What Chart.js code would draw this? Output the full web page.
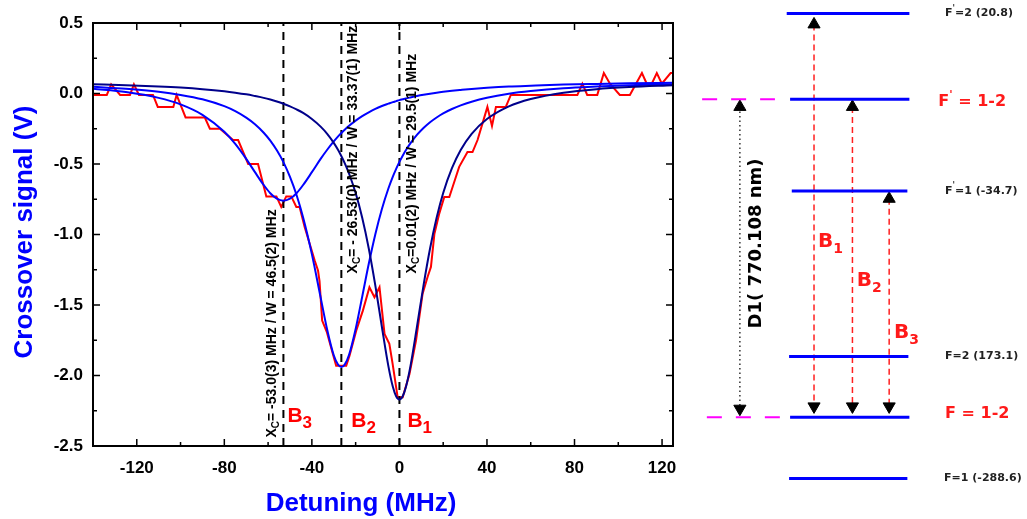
<!DOCTYPE html>
<html>
<head>
<meta charset="utf-8">
<script src="https://cdn.jsdelivr.net/npm/chart.js@4.4.0/dist/chart.umd.min.js"></script>
<style>
  body { margin: 0; background: #fff; }
  #wrap { position: relative; width: 1027px; height: 519px; }
  #mainChart { position: absolute; left: 0; top: 0; }
  #levelChart { position: absolute; left: 690px; top: 0; }
</style>
</head>
<body>
<div id="wrap">
  <canvas id="mainChart" width="690" height="519"></canvas>
  <canvas id="levelChart" width="337" height="519"></canvas>
</div>
<script>
// axis ticks
const xTicks = [-120, -80, -40, 0, 40, 80, 120];
const yTicks = [0.5, 0.0, -0.5, -1.0, -1.5, -2.0, -2.5];

// measured crossover signal (red trace), detuning in MHz, signal in V
const dataX = [-140, -133.7, -131.7, -127.6, -123.1, -121.3, -119, -112.6, -110.4, -103.3,
  -101.8, -97.7, -88.9, -86.6, -82, -76, -73.7, -69.1, -64.6, -60.8,
  -56.2, -54, -51.7, -49.4, -47.1, -45.6, -43.3, -41, -38.7, -37.2,
  -36.5, -35.3, -33.2, -30.4, -28.9, -24.3, -22.8, -19.7, -16.7, -13.7,
  -11.4, -9.1, -6.8, -4.6, -3.1, -0.8, 1.5, 4.6, 7.6, 10.6,
  12.9, 14.4, 16, 18.2, 20.5, 22.8, 24.3, 27.3, 31.1, 33.4,
  35.7, 38, 40.2, 42.3, 44.1, 48.6, 50.9, 81.3, 83.6, 85.8,
  90.4, 93.4, 96.2, 100.7, 105.3, 110.8, 113, 115.3, 117.6, 119.9,
  123.9, 125];
const dataY = [-0.01, -0.01, 0.065, -0.01, -0.01, 0.065, -0.01, -0.01, -0.095, -0.095,
  -0.01, -0.17, -0.17, -0.25, -0.25, -0.33, -0.33, -0.50, -0.50, -0.73,
  -0.73, -0.805, -0.73, -0.73, -0.805, -0.805, -0.947, -1.065, -1.184, -1.255,
  -1.33, -1.61, -1.69, -1.847, -1.93, -1.93, -1.86, -1.68, -1.54, -1.374,
  -1.445, -1.374, -1.705, -1.776, -1.918, -2.155, -2.155, -1.99, -1.75, -1.42,
  -1.30, -1.23, -0.994, -0.852, -0.734, -0.734, -0.663, -0.52, -0.415, -0.415,
  -0.33, -0.21, -0.095, -0.23, -0.095, -0.095, -0.01, -0.01, 0.07, -0.01,
  -0.01, 0.145, 0.07, -0.01, -0.01, 0.145, 0.07, 0.07, 0.145, 0.07,
  0.145, 0.145];

// lorentz fits
const fitX = [-140, -125, -110, -100, -90, -80, -75, -70, -66, -62,
  -59, -56, -53, -50, -47, -44, -40, -36, -33, -30,
  -28, -26.5, -25, -23, -20, -17, -14, -11, -8, -5,
  -3, -1.5, 0, 1.5, 3, 5, 8, 11, 14, 17,
  20, 24, 28, 33, 40, 50, 60, 75, 90, 105, 125];
const fitB1 = [0.065, 0.059, 0.050, 0.042, 0.031, 0.016, 0.006, -0.006, -0.018, -0.031,
  -0.043, -0.057, -0.073, -0.091, -0.113, -0.138, -0.181, -0.235, -0.286, -0.350,
  -0.401, -0.445, -0.494, -0.569, -0.706, -0.881, -1.099, -1.362, -1.656, -1.937,
  -2.080, -2.147, -2.170, -2.147, -2.080, -1.937, -1.656, -1.362, -1.099, -0.881,
  -0.706, -0.530, -0.401, -0.286, -0.181, -0.091, -0.039, 0.006, 0.031, 0.046, 0.059];
const fitB2 = [0.047, 0.033, 0.012, -0.010, -0.041, -0.090, -0.125, -0.171, -0.218, -0.278,
  -0.334, -0.403, -0.487, -0.592, -0.720, -0.879, -1.139, -1.446, -1.675, -1.856,
  -1.924, -1.940, -1.923, -1.853, -1.670, -1.441, -1.208, -0.998, -0.819, -0.672,
  -0.589, -0.535, -0.485, -0.441, -0.401, -0.354, -0.294, -0.245, -0.204, -0.170,
  -0.141, -0.110, -0.084, -0.058, -0.030, -0.002, 0.017, 0.037, 0.049, 0.058, 0.066];
const fitB3 = [0.033, 0.010, -0.031, -0.077, -0.151, -0.272, -0.358, -0.464, -0.558, -0.649,
  -0.707, -0.746, -0.760, -0.746, -0.707, -0.649, -0.558, -0.464, -0.399, -0.340,
  -0.304, -0.280, -0.257, -0.229, -0.192, -0.160, -0.133, -0.109, -0.089, -0.072,
  -0.061, -0.054, -0.047, -0.041, -0.035, -0.028, -0.018, -0.009, -0.001, 0.006,
  0.012, 0.019, 0.025, 0.032, 0.040, 0.049, 0.055, 0.063, 0.068, 0.072, 0.076];

// fitted centres (MHz) and their notes
const centres = [-53.0, -26.53, 0.01];
const centreNotes = ['= -53.0(3) MHz / W = 46.5(2) MHz', '= - 26.53(0) MHz / W = 33.37(1) MHz', '=0.01(2) MHz / W = 29.5(1) MHz'];
const peakNames = ['3', '2', '1'];

// energy level diagram (schematic units 0..100)
const levelY = [97.4, 80.9, 63.2, 31.3, 19.6, 7.8];
const levelX0 = [28.7, 29.7, 30.2, 29.4, 29.7, 29.4];
const levelX1 = [65.1, 65.1, 64.5, 64.8, 65.1, 64.5];
const guideY = [80.9, 19.6];
const guideX0 = [3.6, 5.0];
const guideX1 = [25.2, 26.7];
const beamX = [36.8, 48.2, 59.1];
const beamTop = [95.3, 79.4, 61.7];
const beamBottom = [21.7, 21.7, 21.7];
const d1X = [14.8, 14.8];
const d1Y = [79.4, 21.25];

const FONT = "'Liberation Sans', Arial, sans-serif";
const VFONT = "'DejaVu Sans', Verdana, sans-serif";
Chart.defaults.font.family = FONT;

function richText(ctx, parts, x, y, family) {
    let cx = x;
    for (const [t, size, dy] of parts) {
        ctx.font = `bold ${size}px ${family}`;
        ctx.fillText(t, cx, y + dy);
        cx += ctx.measureText(t).width;
    }
}

const pts = (xs, ys) => xs.map((v, i) => ({x: v, y: ys[i]}));

// frame, inward ticks, notes and titles
const decor = {
    id: 'decor',
    afterDatasetsDraw(chart) {
        const {ctx, chartArea: a, scales: {x, y}} = chart;
        ctx.save();
        ctx.strokeStyle = '#000';
        ctx.lineWidth = 2;
        ctx.strokeRect(a.left, a.top, a.right - a.left, a.bottom - a.top);

        ctx.lineWidth = 1.5;
        ctx.beginPath();
        for (let v = -120; v <= 120; v += 20) {
            const px = x.getPixelForValue(v);
            const len = v % 40 === 0 ? 7 : 4;
            ctx.moveTo(px, a.bottom); ctx.lineTo(px, a.bottom - len);
            ctx.moveTo(px, a.top); ctx.lineTo(px, a.top + len);
        }
        for (let i = 1; i < 12; i++) {
            const py = y.getPixelForValue(-2.5 + i * 0.25);
            const len = i % 2 === 0 ? 7 : 4;
            ctx.moveTo(a.left, py); ctx.lineTo(a.left + len, py);
            ctx.moveTo(a.right, py); ctx.lineTo(a.right - len, py);
        }
        ctx.stroke();

        // rotated fit notes
        ctx.fillStyle = '#000';
        ctx.textBaseline = 'alphabetic';
        ctx.textAlign = 'left';
        const noteOffset = [-7, 16, 17];
        const noteStart = [-2.44, -1.276, -1.276];
        centres.forEach((c, i) => {
            ctx.save();
            ctx.translate(x.getPixelForValue(c) + noteOffset[i], y.getPixelForValue(noteStart[i]));
            ctx.rotate(-Math.PI / 2);
            richText(ctx, [['X', 14, 0], ['C', 10, 3], [centreNotes[i], 14, 0]], 0, 0, FONT);
            ctx.restore();
        });

        // B labels
        ctx.fillStyle = '#ff0000';
        const bShift = [4, 10, 8];
        const bBase = [422, 427, 427];
        centres.forEach((c, i) => {
            richText(ctx, [['B', 21, 0], [peakNames[i], 17, 6]], x.getPixelForValue(c) + bShift[i], bBase[i], FONT);
        });

        // axis titles
        ctx.fillStyle = '#0000ff';
        ctx.font = `bold 26px ${FONT}`;
        ctx.textAlign = 'center';
        ctx.fillText('Detuning (MHz)', 361, 511);
        ctx.save();
        ctx.translate(32, 232);
        ctx.rotate(-Math.PI / 2);
        ctx.fillText('Crossover signal (V)', 0, 0);
        ctx.restore();
        ctx.restore();
    }
};

const tickFont = {family: FONT, size: 17, weight: 'bold'};

new Chart(document.getElementById('mainChart'), {
    type: 'scatter',
    data: {
        datasets: [
            {data: pts(dataX, dataY), showLine: true, borderColor: '#ff0000', borderWidth: 2, pointRadius: 0, order: 5},
            {data: pts(fitX, fitB3), showLine: true, borderColor: '#0000ff', borderWidth: 2, pointRadius: 0, cubicInterpolationMode: 'monotone', order: 3},
            {data: pts(fitX, fitB2), showLine: true, borderColor: '#0000ff', borderWidth: 2, pointRadius: 0, cubicInterpolationMode: 'monotone', order: 2},
            {data: pts(fitX, fitB1), showLine: true, borderColor: '#00008b', borderWidth: 2, pointRadius: 0, cubicInterpolationMode: 'monotone', order: 1},
            ...centres.map(c => ({
                data: [{x: c, y: -2.5}, {x: c, y: 0.5}], showLine: true, borderColor: '#000',
                borderWidth: 2, borderDash: [8, 6], pointRadius: 0, order: 4
            }))
        ]
    },
    options: {
        responsive: false,
        animation: false,
        layout: {autoPadding: false, padding: {top: 23, right: 17, left: 0, bottom: 0}},
        plugins: {legend: {display: false}, tooltip: {enabled: false}},
        scales: {
            x: {
                type: 'linear', min: -140, max: 125,
                grid: {display: false, drawTicks: false},
                border: {display: false},
                afterBuildTicks: s => { s.ticks = xTicks.map(v => ({value: v})); },
                afterFit: s => { s.height = 73; },
                ticks: {padding: 12, color: '#000', font: tickFont, maxRotation: 0, autoSkip: false}
            },
            y: {
                type: 'linear', min: -2.5, max: 0.5,
                grid: {display: false, drawTicks: false},
                border: {display: false},
                afterBuildTicks: s => { s.ticks = yTicks.map(v => ({value: v})); },
                afterFit: s => { s.width = 93; },
                ticks: {padding: 10, color: '#000', font: tickFont, callback: v => v.toFixed(1)}
            }
        }
    },
    plugins: [decor]
});

// level diagram texts
const levelText = {
    id: 'levelText',
    afterDatasetsDraw(chart) {
        const {ctx, scales: {x, y}} = chart;
        ctx.save();
        ctx.textAlign = 'left';
        ctx.textBaseline = 'middle';
        ctx.fillStyle = '#222';
        const small = [
            [[['F', 11, 0], ["'", 8, -5], ['=2 (20.8)', 11, 0]], 75.7, levelY[0]],
            [[['F', 11, 0], ["'", 8, -5], ['=1 (-34.7)', 11, 0]], 75.7, levelY[2]],
            [[['F=2 (173.1)', 11, 0]], 75.7, levelY[3]],
            [[['F=1 (-288.6)', 11, 0]], 75.4, levelY[5]]
        ];
        for (const [parts, ux, uy] of small) {
            richText(ctx, parts, x.getPixelForValue(ux), y.getPixelForValue(uy), VFONT);
        }
        ctx.fillStyle = '#ff1a1a';
        richText(ctx, [['F', 16, 0], ["'", 11, -7], [' = 1-2', 16, 0]], x.getPixelForValue(73.7), y.getPixelForValue(levelY[1]) + 3, VFONT);
        richText(ctx, [['F = 1-2', 16, 0]], x.getPixelForValue(75.7), y.getPixelForValue(levelY[4]) - 3, VFONT);

        ctx.textBaseline = 'alphabetic';
        const bPos = [[38.0, 52.4, '1'], [49.5, 44.8, '2'], [60.5, 34.9, '3']];
        for (const [ux, uy, s] of bPos) {
            richText(ctx, [['B', 20, 0], [s, 14, 6]], x.getPixelForValue(ux), y.getPixelForValue(uy), VFONT);
        }

        ctx.fillStyle = '#000';
        ctx.textAlign = 'center';
        ctx.textBaseline = 'middle';
        ctx.font = `bold 18px ${VFONT}`;
        ctx.save();
        ctx.translate(x.getPixelForValue(19.8), y.getPixelForValue(53.1));
        ctx.rotate(-Math.PI / 2);
        ctx.fillText('D1( 770.108 nm)', 0, 0);
        ctx.restore();
        ctx.restore();
    }
};

const arrowSet = (xs, ys, color, dash, width) => ({
    data: pts(xs, ys), showLine: true, borderColor: color, borderDash: dash, borderWidth: width,
    pointStyle: 'triangle', pointRadius: 7, rotation: [0, 180],
    pointBackgroundColor: '#000', pointBorderColor: '#000', pointBorderWidth: 1
});

new Chart(document.getElementById('levelChart'), {
    type: 'scatter',
    data: {
        datasets: [
            ...levelY.map((ly, i) => ({
                data: [{x: levelX0[i], y: ly}, {x: levelX1[i], y: ly}], showLine: true,
                borderColor: '#0000ff', borderWidth: 3, pointRadius: 0
            })),
            ...guideY.map((gy, i) => ({
                data: [{x: guideX0[i], y: gy}, {x: guideX1[i], y: gy}], showLine: true,
                borderColor: '#ff00ff', borderWidth: 2, borderDash: [15, 14], pointRadius: 0
            })),
            ...beamX.map((bx, i) => arrowSet([bx, bx], [beamTop[i], beamBottom[i]], '#ff2020', [6, 4], 1.5)),
            arrowSet(d1X, d1Y, '#333', [1.5, 3], 1.5)
        ]
    },
    options: {
        responsive: false,
        animation: false,
        layout: {autoPadding: false, padding: 0},
        plugins: {legend: {display: false}, tooltip: {enabled: false}},
        scales: {
            x: {type: 'linear', min: 0, max: 100, display: false},
            y: {type: 'linear', min: 0, max: 100, display: false}
        }
    },
    plugins: [levelText]
});
</script>
</body>
</html>
